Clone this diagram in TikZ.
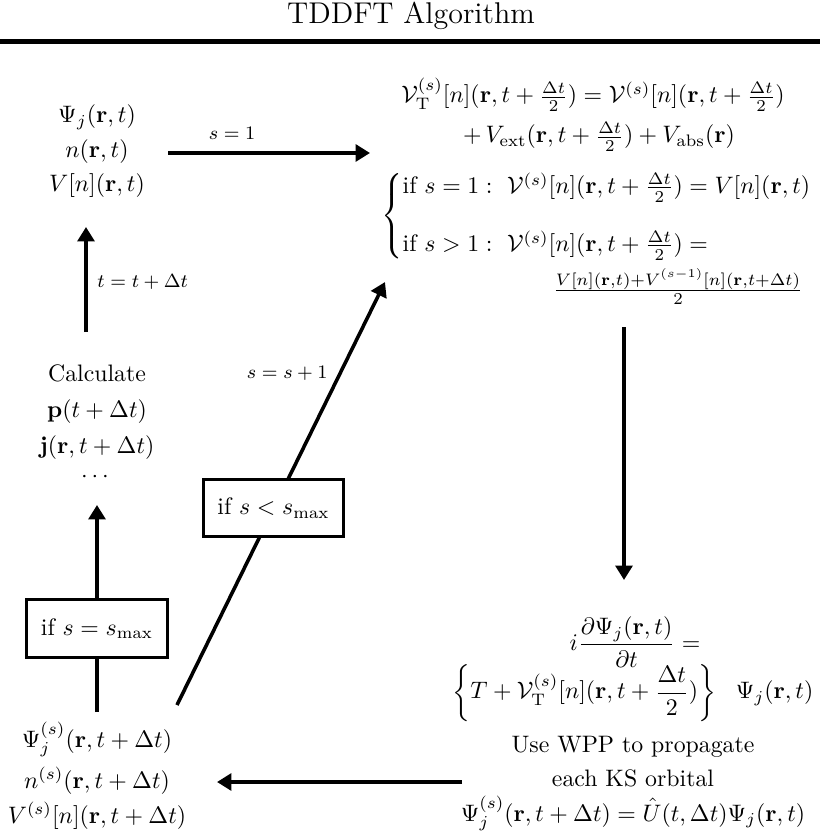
\documentclass[tikz,border=0pt]{standalone}
\usepackage{amsmath}
\usetikzlibrary{arrows.meta}
\begin{document}
\begin{tikzpicture}[x=0.42pt,y=-0.42pt,
  txt/.style={anchor=base,inner sep=0pt,font=\normalsize},
  lbl/.style={anchor=base,inner sep=0pt,font=\footnotesize},
  cond/.style={draw,line width=1.3pt,fill=white,minimum width=59pt,minimum height=24pt,inner sep=0pt},
  conn/.style={line width=1.5pt},
  arr/.style={conn,-{Triangle[length=6pt,width=7pt]}}]
\useasboundingbox (0,0) rectangle (820,839);
% title
\node[txt,font=\fontsize{12.6}{15}\selectfont] (title) at (411,24) {TDDFT Algorithm};
\coordinate (ruleL) at (0,42);
\coordinate (ruleR) at (820,42);
\draw[line width=2.1pt] (ruleL) -- (ruleR);
% top-left state
\node[txt] (psi) at (97,123) {$\Psi_j(\mathbf{r},t)$};
\node[txt] (dens) at (97,158) {$n(\mathbf{r},t)$};
\node[txt] (pot) at (97,192) {$V[n](\mathbf{r},t)$};
% top-right potential
\node[txt] (vt1) at (593,103) {$\mathcal{V}^{(s)}_{\mathrm{T}}[n](\mathbf{r},t+\tfrac{\Delta t}{2}) = \mathcal{V}^{(s)}[n](\mathbf{r},t+\tfrac{\Delta t}{2})$};
\node[txt] (vt2) at (599,143) {$+\,V_{\mathrm{ext}}(\mathbf{r},t+\tfrac{\Delta t}{2}) + V_{\mathrm{abs}}(\mathbf{r})$};
\node[anchor=west,inner sep=0pt] (cases) at (381,216) {$\begin{cases}
 \text{if } s=1:\ \mathcal{V}^{(s)}[n](\mathbf{r},t+\tfrac{\Delta t}{2}) = V[n](\mathbf{r},t)\\[10pt]
 \text{if } s>1:\ \mathcal{V}^{(s)}[n](\mathbf{r},t+\tfrac{\Delta t}{2}) =
 \end{cases}$};
\node[inner sep=0pt] (frac) at (678,287) {$\tfrac{V[n](\mathbf{r},t)+V^{(s-1)}[n](\mathbf{r},t+\Delta t)}{2}$};
% bottom-right propagation
\node[inner sep=0pt] (tdks) at (635,642) {$i\dfrac{\partial\Psi_j(\mathbf{r},t)}{\partial t} =$};
\node[inner sep=0pt] (ham) at (633,693) {$\left\{T+\mathcal{V}^{(s)}_{\mathrm{T}}[n](\mathbf{r},t+\dfrac{\Delta t}{2})\right\}\ \ \Psi_j(\mathbf{r},t)$};
\node[txt] (wpp1) at (633,752) {Use WPP to propagate};
\node[txt] (wpp2) at (633,786) {each KS orbital};
\node[txt] (prop) at (633,821) {$\Psi^{(s)}_j(\mathbf{r},t+\Delta t) = \hat{U}(t,\Delta t)\Psi_j(\mathbf{r},t)$};
% bottom-left new state
\node[txt] (npsi) at (97,747) {$\Psi^{(s)}_j(\mathbf{r},t+\Delta t)$};
\node[txt] (ndens) at (97,788) {$n^{(s)}(\mathbf{r},t+\Delta t)$};
\node[txt] (npot) at (97,823) {$V^{(s)}[n](\mathbf{r},t+\Delta t)$};
% calculate
\node[txt] (calc) at (97,381) {Calculate};
\node[txt] (dip) at (97,417) {$\mathbf{p}(t+\Delta t)$};
\node[txt] (cur) at (97,453) {$\mathbf{j}(\mathbf{r},t+\Delta t)$};
\node[txt] (dots) at (97,482) {$\cdots$};
% connector end points
\coordinate (a1s) at (168,153); \coordinate (a1e) at (370,153);
\coordinate (a2s) at (86,332);  \coordinate (a2e) at (86,227);
\coordinate (a3s) at (624,327); \coordinate (a3e) at (624,580);
\coordinate (a4s) at (462,782); \coordinate (a4e) at (217,782);
\coordinate (a5s) at (97,712);  \coordinate (a5e) at (97,505);
\coordinate (a6s) at (177,705); \coordinate (a6e) at (385,282);
% connectors
\draw[arr] (a1s) -- (a1e);
\node[lbl] (ls1) at (232,140) {$s=1$};
\draw[arr] (a2s) -- (a2e);
\node[lbl,anchor=base west] (lt) at (97,287) {$t=t+\Delta t$};
\draw[arr] (a3s) -- (a3e);
\draw[arr] (a4s) -- (a4e);
\draw[arr] (a5s) -- (a5e);
\draw[arr] (a6s) -- (a6e);
\node[lbl,anchor=base east] (ls2) at (328,378) {$s=s+1$};
\node[cond] (eqmax) at (97,628.5) {if $s=s_{\max}$};
\node[cond] (ltmax) at (273.5,508) {if $s<s_{\max}$};
\end{tikzpicture}
\end{document}
